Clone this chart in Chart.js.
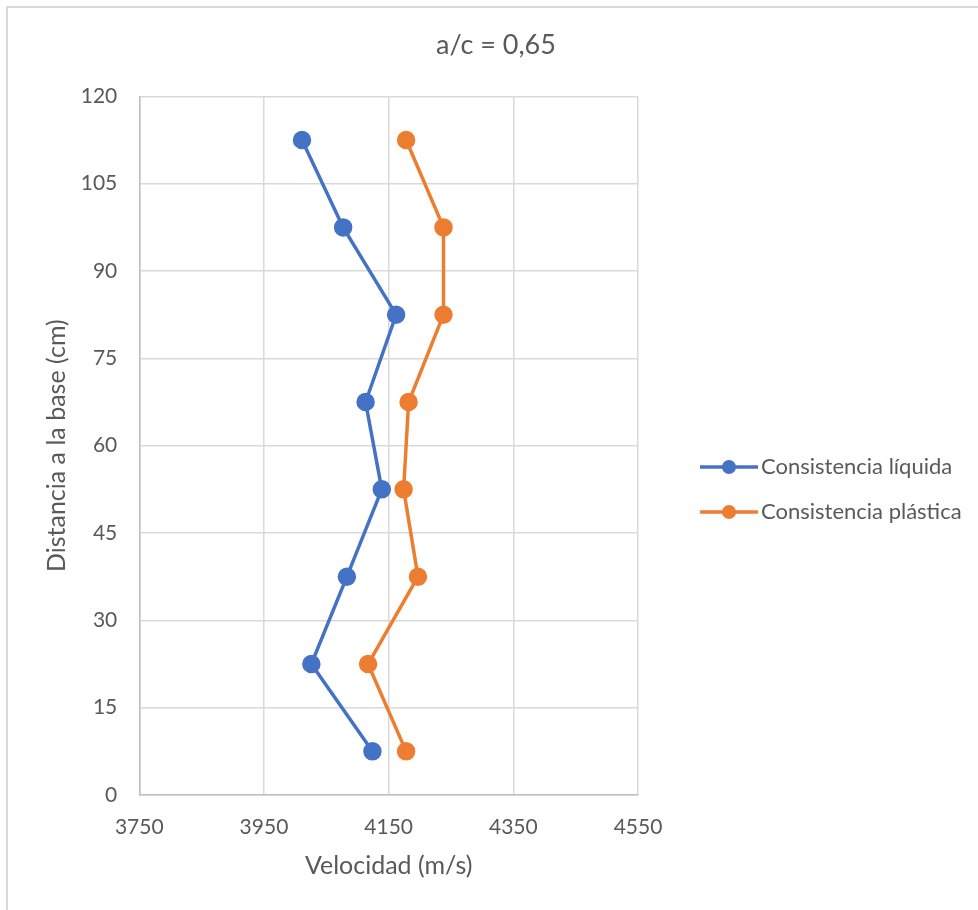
<!DOCTYPE html>
<html lang="es"><head><meta charset="utf-8">
<title>a/c = 0,65</title>
<script src="https://cdn.jsdelivr.net/npm/chart.js@4"></script>
<style>
  body { margin: 0; background: #fff; }
  .marco { position: absolute; left: 6px; top: 6px; right: 0; bottom: 0;
           border-left: 2px solid #d9d9d9; border-top: 2px solid #d9d9d9; }
  #grafico { position: absolute; left: 0; top: 0; }
</style>
</head>
<body>
<div class="marco"></div>
<canvas id="grafico" width="978" height="910"></canvas>

<script>
  // datos (distancia a la base en cm, velocidad en m/s)
  const alturas = [112.5, 97.5, 82.5, 67.5, 52.5, 37.5, 22.5, 7.5];
  const velLiquida = [4011, 4077, 4162, 4113, 4139, 4083, 4026, 4124];
  const velPlastica = [4178, 4238, 4238, 4182, 4174, 4197, 4117, 4178];
  const ticksX = [3750, 3950, 4150, 4350, 4550];
  const ticksY = [0, 15, 30, 45, 60, 75, 90, 105, 120];
  const nombres = ['Consistencia líquida', 'Consistencia plástica'];
  const colores = ['#4472C4', '#ED7D31'];

  const fuente = 'Lato, "Open Sans", sans-serif';
  const gris = '#595959';

  function puntos(vel) {
    return vel.map((v, i) => ({ x: v, y: alturas[i] }));
  }

  // leyenda dibujada a la derecha (linea + marcador como en Excel)
  const leyenda = {
    id: 'leyenda',
    afterDraw(chart) {
      const ctx = chart.ctx;
      ctx.save();
      chart.data.datasets.forEach((ds, i) => {
        const y = 467 + i * 45;
        ctx.strokeStyle = ds.borderColor;
        ctx.lineWidth = 3.5;
        ctx.beginPath();
        ctx.moveTo(700, y);
        ctx.lineTo(758, y);
        ctx.stroke();
        ctx.fillStyle = ds.backgroundColor;
        ctx.beginPath();
        ctx.arc(729, y, 7, 0, Math.PI * 2);
        ctx.fill();
        ctx.fillStyle = gris;
        ctx.font = '22px ' + fuente;
        ctx.textBaseline = 'middle';
        ctx.textAlign = 'left';
        ctx.fillText(ds.label, 761, y);
      });
      ctx.restore();
    }
  };

  const chart = new Chart(document.getElementById('grafico'), {
    type: 'scatter',
    data: {
      datasets: [0, 1].map(i => ({
        label: nombres[i],
        data: puntos(i === 0 ? velLiquida : velPlastica),
        showLine: true,
        borderColor: colores[i],
        backgroundColor: colores[i],
        borderWidth: 3.5,
        pointRadius: 7.5,
        pointHoverRadius: 7.5,
        tension: 0
      }))
    },
    options: {
      responsive: false,
      animation: false,
      layout: { padding: { left: 14, right: 0, top: 0, bottom: 0 } },
      plugins: {
        legend: { display: false },
        tooltip: { enabled: false },
        title: {
          display: true,
          text: 'a/c = 0,65',
          color: gris,
          font: { family: fuente, size: 27, weight: 'normal' },
          padding: { top: 29, bottom: 35 }
        }
      },
      scales: {
        x: {
          type: 'linear',
          min: 3750, max: 4550,
          afterBuildTicks: s => { s.ticks = ticksX.map(v => ({ value: v })); },
          afterFit: s => { s.height = 115; },
          ticks: {
            color: gris, padding: 20,
            font: { family: fuente, size: 21 },
            callback: v => String(v)
          },
          grid: { color: '#d9d9d9', lineWidth: 1.5, drawTicks: false },
          border: { color: '#bfbfbf', width: 1.5 },
          title: {
            display: true, text: 'Velocidad (m/s)', color: gris,
            font: { family: fuente, size: 25 },
            padding: { top: 0, bottom: 29 }
          }
        },
        y: {
          type: 'linear',
          min: 0, max: 120,
          afterBuildTicks: s => { s.ticks = ticksY.map(v => ({ value: v })); },
          afterFit: s => { s.width = 125.3; },
          ticks: {
            color: gris, padding: 22,
            font: { family: fuente, size: 21 },
            callback: v => String(v)
          },
          grid: { color: '#d9d9d9', lineWidth: 1.5, drawTicks: false },
          border: { color: '#bfbfbf', width: 1.5 },
          title: {
            display: true, text: 'Distancia a la base (cm)', color: gris,
            font: { family: fuente, size: 25 },
            padding: { top: 28, bottom: 0 }
          }
        },
        // eje vacio que reserva el espacio de la leyenda
        hueco: {
          type: 'linear', position: 'right',
          afterFit: s => { s.width = 340; },
          ticks: { display: false },
          grid: { display: false },
          border: { display: false }
        }
      }
    },
    plugins: [leyenda]
  });
</script>
</body>
</html>
